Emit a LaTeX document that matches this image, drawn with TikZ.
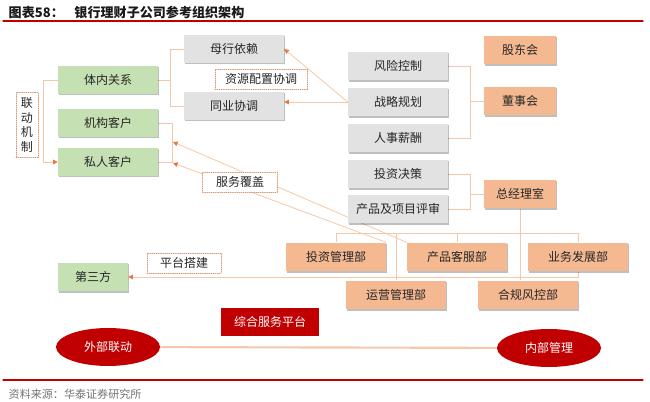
\documentclass[tikz,border=0pt]{standalone}
\usepackage{fontspec}
\newfontfamily\cjk{Noto Sans CJK SC}
\usepackage{tikz}
\usetikzlibrary{arrows.meta,shapes.geometric,shadows}
\definecolor{boxgrey}{RGB}{226,226,226}
\definecolor{boxgreen}{RGB}{197,224,178}
\definecolor{boxorange}{RGB}{245,185,145}
\definecolor{darkred}{RGB}{192,0,0}
\definecolor{linkc}{RGB}{244,200,170}
\definecolor{arrowc}{RGB}{232,120,60}
\definecolor{dotc}{RGB}{215,150,110}
\pgfdeclarelayer{bg}
\pgfsetlayers{bg,main}

\begin{document}
\begin{tikzpicture}[line cap=round,line join=round,>={Triangle[length=3.5pt,width=3.5pt,color=arrowc]},x=0.75pt,y=-0.75pt,
    base/.style={font=\cjk\fontsize{9}{10}\selectfont,text=black!85,inner sep=0pt},
    shade/.style={drop shadow={shadow xshift=1pt,shadow yshift=-1pt,fill=black,opacity=0.25}},
    greybox/.style={base,shade,fill=boxgrey,minimum width=75pt,minimum height=21.5pt},
    greenbox/.style={base,shade,fill=boxgreen,minimum width=75pt,minimum height=21pt},
    orangebox/.style={base,shade,fill=boxorange,minimum width=75pt,minimum height=21.5pt},
    dashbox/.style={base,fill=white,draw=dotc,densely dotted,line width=0.6pt,minimum height=15pt},
    redbox/.style={base,fill=darkred,text=white,minimum width=74pt,minimum height=21pt},
    oval/.style={base,ellipse,fill=darkred,text=white,minimum width=78pt,minimum height=28.5pt},
    link/.style={draw=linkc,line width=0.6pt}]
    \useasboundingbox (0,0) rectangle (650,402);
    % title and rules
    \node[anchor=west,font=\cjk\fontsize{9.8}{10}\selectfont\bfseries,text=black!90] (title) at (4,12) {图表58：\hspace{8pt}银行理财子公司参考组织架构};
    \draw[darkred,line width=0.9pt] (3,21) -- (643,21);
    \draw[darkred,line width=0.9pt] (3,380) -- (643,380);
    \node[anchor=west,font=\cjk\fontsize{8.3}{9}\selectfont,text=black!55] (src) at (4,394) {资料来源：华泰证券研究所};
    % left column
    \node[greenbox] (tnGX) at (108,80) {体内关系};
    \node[greenbox] (jgkh) at (108,123) {机构客户};
    \node[greenbox] (srkh) at (108,162) {私人客户};
    \node[dashbox,minimum width=16.5pt,minimum height=48.75pt,align=center,font=\cjk\fontsize{9}{11}\selectfont] (ldjz) at (27,125) {联\\动\\机\\制};
    \node[greenbox,minimum width=52.5pt,minimum height=21.5pt] (dsf) at (93,277) {第三方};
    % middle
    \node[greybox,minimum height=21pt] (mhyl) at (234,49) {母行依赖};
    \node[greybox,minimum height=21pt] (tyxt) at (234,106) {同业协调};
    \node[dashbox,minimum width=69pt] (zypz) at (261,79) {资源配置协调};
    \node[dashbox,minimum width=56pt] (fwfg) at (240,182) {服务覆盖};
    \node[dashbox,minimum width=55.5pt] (ptdj) at (184,263) {平台搭建};
    \node[redbox] (zhfw) at (270,322) {综合服务平台};
    % right column
    \node[greybox] (fxkz) at (398,66) {风险控制};
    \node[greybox] (zlgh) at (398,102) {战略规划};
    \node[greybox] (rsxc) at (398,138) {人事薪酬};
    \node[greybox] (tzjc) at (398,174) {投资决策};
    \node[greybox] (cpps) at (398,209) {产品及项目评审};
    \node[orangebox,minimum width=54pt] (gdh) at (520,50) {股东会};
    \node[orangebox,minimum width=54pt] (dsh) at (520,101) {董事会};
    \node[orangebox,minimum width=54pt] (zjls) at (520,194) {总经理室};
    % departments
    \node[orangebox] (tzgl) at (336,257) {投资管理部};
    \node[orangebox] (cpkf) at (457,257) {产品客服部};
    \node[orangebox] (ywfz) at (578,257) {业务发展部};
    \node[orangebox] (yygl) at (396,295) {运营管理部};
    \node[orangebox] (hgfk) at (528,295) {合规风控部};
    % bottom
    \node[oval] (wbld) at (108,347) {外部联动};
    \node[oval] (nbgl) at (549,348) {内部管理};
    \coordinate (bus) at (0,233);
    \coordinate (fw1) at (173,142);
    \coordinate (fw2) at (173,163);
    \begin{pgfonlayer}{bg}
        \draw[link] (tnGX.east) -- ++(12,0) |- (mhyl.west);
        \draw[link] (tnGX.east) -- ++(12,0) |- (tyxt.west);
        \draw[link,->] (tnGX.west) -- ++(-14,0) |- (srkh.west);
        \draw[link] (jgkh.east) -- ++(14,0) |- (srkh.east);
        \draw[link,->] (zlgh.west) -- (mhyl.east);
        \draw[link,->] (zlgh.west) -- (zlgh.west -| tyxt.east);
        \draw[link,->] (cpkf.north west) -- (fw1);
        \draw[link,->] (tzgl.north east) -- (fw2);
        \draw[link] (fxkz.east) -- ++(22,0) |- (rsxc.east);
        \draw[link] (dsh.west) -- ++(-14,0);
        \draw[link] (tzjc.east) -- ++(22,0) |- (cpps.east);
        \draw[link] (zjls.west) -- ++(-14,0);
        \draw[link] (tzgl.north) |- (ywfz.north |- bus) -- (ywfz.north);
        \draw[link] (cpkf.north) -- (cpkf.north |- bus);
        \draw[link] (yygl.north) -- (yygl.north |- bus);
        \draw[link] (zjls.south) -- (zjls.south |- hgfk.north);
        \draw[link,->] (ywfz.south) |- (dsf.east);
        \draw[draw=linkc,line width=1.6pt] (wbld) -- (nbgl);
    \end{pgfonlayer}
\end{tikzpicture}
\end{document}
